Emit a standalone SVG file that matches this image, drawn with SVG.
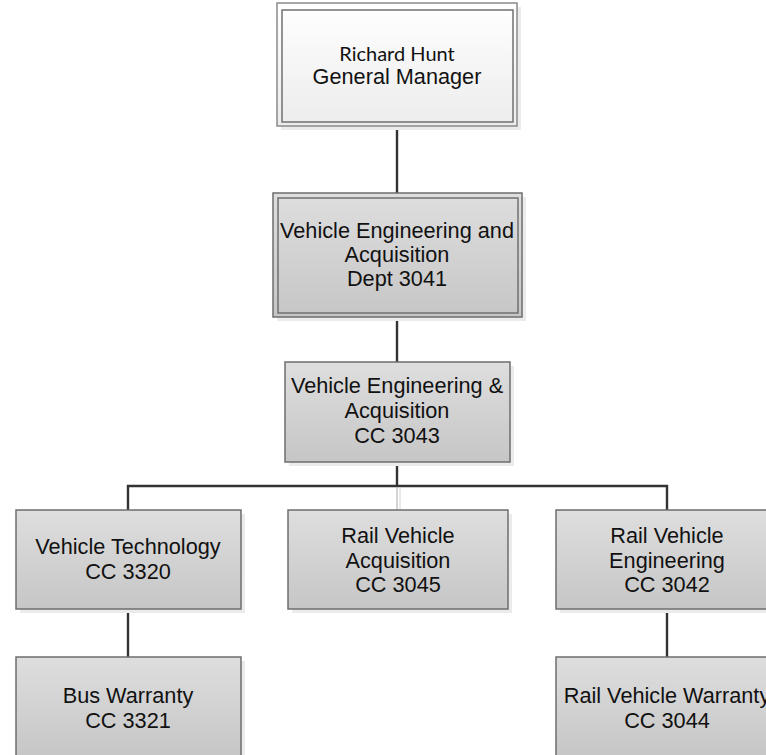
<svg xmlns="http://www.w3.org/2000/svg" width="766" height="755" viewBox="0 0 766 755">
<defs>
<linearGradient id="gGray" x1="0" y1="0" x2="0" y2="1">
<stop offset="0" stop-color="#dedede"/>
<stop offset="1" stop-color="#c6c6c6"/>
</linearGradient>
<linearGradient id="gWhite" x1="0" y1="0" x2="0" y2="1">
<stop offset="0" stop-color="#ffffff"/>
<stop offset="1" stop-color="#ececec"/>
</linearGradient>
</defs>
<style>
.box{fill:url(#gGray);stroke:#6e6e6e;stroke-width:1.5}
.wbox{fill:url(#gWhite);stroke:#8a8a8a;stroke-width:1.5}
.inner{fill:none;stroke:#707070;stroke-width:1.5}
.shadow{fill:#ebebeb;stroke:none}
.conn{stroke:#333333;stroke-width:2.4;fill:none}
.t{font-family:"Liberation Sans",Arial,sans-serif;font-size:21.7px;fill:#111;text-anchor:middle}
.tc{font-family:Lato,"Noto Sans",sans-serif;font-size:20px;fill:#111;text-anchor:middle}
</style>
<rect width="766" height="755" fill="#ffffff"/>
<g id="connectors">
<line class="conn" x1="397" y1="126" x2="397" y2="193"/>
<line class="conn" x1="397" y1="317" x2="397" y2="362"/>
<line class="conn" x1="397" y1="462" x2="397" y2="486"/>
<polyline class="conn" points="128,510 128,486 667,486 667,510"/>
<line x1="397" y1="487" x2="397" y2="510" stroke="#b8b8b8" stroke-width="1.2"/>
<line x1="400" y1="487" x2="400" y2="510" stroke="#dcdcdc" stroke-width="1.2"/>
<line class="conn" x1="128" y1="609" x2="128" y2="657"/>
<line class="conn" x1="667" y1="609" x2="667" y2="657"/>
</g>
<g id="n-gm">
<rect class="shadow" x="281" y="7" width="240" height="123"/>
<rect class="wbox" x="277" y="3" width="240" height="123"/>
<rect class="inner" x="282" y="10" width="231" height="112"/>
<text class="tc" x="397" y="61">Richard Hunt</text>
<text class="t" x="397" y="84">General Manager</text>
</g>
<g id="n-dept3041">
<rect class="shadow" x="277" y="197" width="249" height="124"/>
<rect class="box" x="273" y="193" width="249" height="124"/>
<rect class="inner" x="278" y="198" width="240" height="115"/>
<text class="t" x="397" y="238">Vehicle Engineering and</text>
<text class="t" x="397" y="262">Acquisition</text>
<text class="t" x="397" y="286">Dept 3041</text>
</g>
<g id="n-cc3043">
<rect class="shadow" x="289" y="366" width="225" height="100"/>
<rect class="box" x="285" y="362" width="225" height="100"/>
<text class="t" x="397" y="393">Vehicle Engineering &amp;</text>
<text class="t" x="397" y="418">Acquisition</text>
<text class="t" x="397" y="443">CC 3043</text>
</g>
<g id="n-cc3320">
<rect class="shadow" x="20" y="514" width="225" height="99"/>
<rect class="box" x="16" y="510" width="225" height="99"/>
<text class="t" x="128" y="554">Vehicle Technology</text>
<text class="t" x="128" y="579">CC 3320</text>
</g>
<g id="n-cc3045">
<rect class="shadow" x="292" y="514" width="220" height="99"/>
<rect class="box" x="288" y="510" width="220" height="99"/>
<text class="t" x="398" y="543">Rail Vehicle</text>
<text class="t" x="398" y="568">Acquisition</text>
<text class="t" x="398" y="592">CC 3045</text>
</g>
<g id="n-cc3042">
<rect class="shadow" x="560" y="514" width="225" height="99"/>
<rect class="box" x="556" y="510" width="225" height="99"/>
<text class="t" x="667" y="543">Rail Vehicle</text>
<text class="t" x="667" y="568">Engineering</text>
<text class="t" x="667" y="592">CC 3042</text>
</g>
<g id="n-cc3321">
<rect class="shadow" x="20" y="661" width="225" height="100"/>
<rect class="box" x="16" y="657" width="225" height="100"/>
<text class="t" x="128" y="703">Bus Warranty</text>
<text class="t" x="128" y="728">CC 3321</text>
</g>
<g id="n-cc3044">
<rect class="shadow" x="560" y="661" width="225" height="100"/>
<rect class="box" x="556" y="657" width="225" height="100"/>
<text class="t" x="667" y="703">Rail Vehicle Warranty</text>
<text class="t" x="667" y="728">CC 3044</text>
</g>
</svg>
